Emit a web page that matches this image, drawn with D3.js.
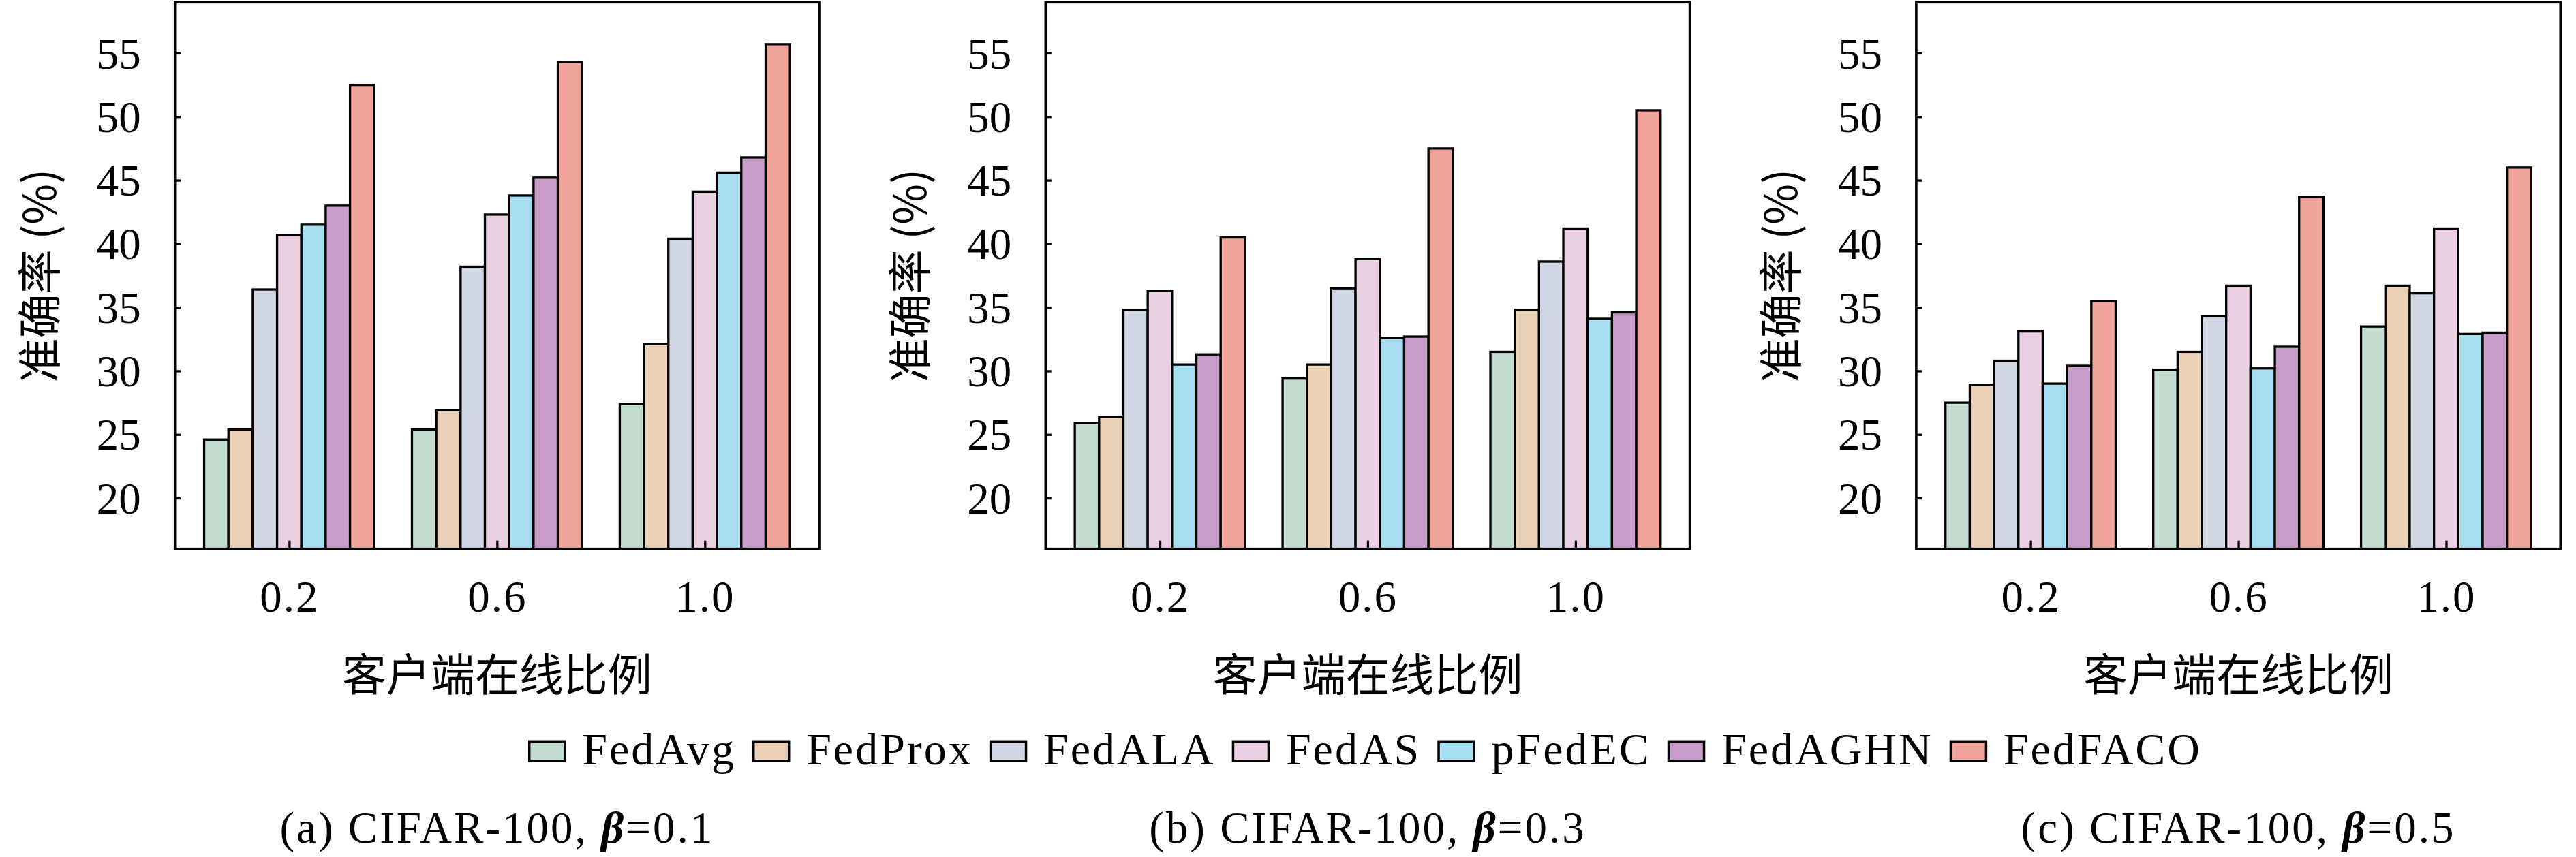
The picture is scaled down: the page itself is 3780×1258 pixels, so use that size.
<!DOCTYPE html>
<html>
<head>
<meta charset="utf-8">
<script src="https://cdn.jsdelivr.net/npm/d3@7"></script>
<style>
  html, body { margin: 0; padding: 0; background: #fff; }
  svg { display: block; }
</style>
</head>
<body>
<svg id="chart" width="3780" height="1258"></svg>
<script>
// categories and series
var categories = ['0.2', '0.6', '1.0'];
var methods = ['FedAvg', 'FedProx', 'FedALA', 'FedAS', 'pFedEC', 'FedAGHN', 'FedFACO'];
var colors = ['#c3dcd0', '#ecd1b9', '#d0d6e4', '#ebd0e4', '#a7def2', '#c89cc9', '#f0a49c'];

// accuracy (%) per group, one row per online ratio, methods in order above
var acc_beta01 = [
    [24.6, 25.4, 36.4, 40.7, 41.5, 43.0, 52.5],
    [25.4, 26.9, 38.2, 42.3, 43.8, 45.2, 54.3],
    [27.4, 32.1, 40.4, 44.1, 45.6, 46.8, 55.7]
];
var acc_beta03 = [
    [25.9, 26.4, 34.8, 36.3, 30.5, 31.3, 40.5],
    [29.4, 30.5, 36.5, 38.8, 32.6, 32.7, 47.5],
    [31.5, 34.8, 38.6, 41.2, 34.1, 34.6, 50.5]
];
var acc_beta05 = [
    [27.5, 28.9, 30.8, 33.1, 29.0, 30.4, 35.5],
    [30.1, 31.5, 34.3, 36.7, 30.2, 31.9, 43.7],
    [33.5, 36.7, 36.1, 41.2, 32.9, 33.0, 46.0]
];
var y_ticks = [20, 25, 30, 35, 40, 45, 50, 55];
var y_domain = [16, 59];
var captions = ['(a) CIFAR-100, ', '(b) CIFAR-100, ', '(c) CIFAR-100, '];
var betas = ['0.1', '0.3', '0.5'];
var x_label = '客户端在线比例';
var y_label = '准确率 (%)';

var panels_data = [acc_beta01, acc_beta03, acc_beta05];

// layout
var LATIN = '"Liberation Serif", "DejaVu Serif", serif';
var CJK = '"Noto Sans CJK SC", "Noto Sans CJK JP", sans-serif';
var FS = 65;
var top_y = 3.3, bottom_y = 805.7;
var panel_w = 945.3, panel_step = 1277.6, first_left = 256.7;
var bar_w = 0.117;

var svg = d3.select('#chart');

panels_data.forEach(function(rows, p) {
    var left = first_left + p * panel_step;
    var right = left + panel_w;
    var cx = (left + right) / 2;

    var x = d3.scaleLinear().domain([-0.55, 2.55]).range([left, right]);
    var y = d3.scaleLinear().domain(y_domain).range([bottom_y, top_y]);

    var g = svg.append('g').attr('class', 'panel');

    // bars
    rows.forEach(function(vals, i) {
        g.selectAll(null)
            .data(vals)
            .enter()
            .append('rect')
            .attr('x', function(d, j) { return x(i + (j - 3.5) * bar_w); })
            .attr('width', x(bar_w) - x(0))
            .attr('y', function(d) { return y(d); })
            .attr('height', function(d) { return y(y_domain[0]) - y(d); })
            .style('fill', function(d, j) { return colors[j]; })
            .style('stroke', '#000')
            .style('stroke-width', 3.3);
    });

    // y axis, ticks pointing in
    var ya = g.append('g')
        .attr('transform', 'translate(' + left + ',0)')
        .call(d3.axisLeft(y).tickValues(y_ticks).tickSize(-8.5).tickPadding(50));
    ya.select('.domain').remove();
    ya.selectAll('line').style('stroke', '#000').style('stroke-width', 3.3);
    ya.selectAll('text')
        .attr('dy', '0.34em')
        .style('font-family', LATIN)
        .style('font-size', FS + 'px')
        .style('fill', '#000');

    // x axis
    var xa = g.append('g')
        .attr('transform', 'translate(0,' + bottom_y + ')')
        .call(d3.axisBottom(x).tickValues([0, 1, 2])
            .tickFormat(function(d) { return categories[d]; })
            .tickSize(-12));
    xa.select('.domain').remove();
    xa.selectAll('line').style('stroke', '#000').style('stroke-width', 3.3);
    xa.selectAll('text')
        .attr('y', 92.3)
        .attr('dy', null)
        .style('font-family', LATIN)
        .style('font-size', FS + 'px')
        .style('letter-spacing', '2px')
        .style('fill', '#000');

    // frame
    g.append('rect')
        .attr('x', left).attr('y', top_y)
        .attr('width', panel_w).attr('height', bottom_y - top_y)
        .style('fill', 'none')
        .style('stroke', '#000')
        .style('stroke-width', 3.6);

    // axis labels
    g.append('text')
        .attr('x', cx).attr('y', 986)
        .attr('text-anchor', 'middle')
        .attr('dominant-baseline', 'central')
        .style('font-family', CJK)
        .style('font-size', FS + 'px')
        .text(x_label);

    g.append('text')
        .attr('transform', 'translate(' + (left - 203) + ',' + ((top_y + bottom_y) / 2) + ') rotate(-90)')
        .attr('text-anchor', 'middle')
        .attr('dominant-baseline', 'central')
        .style('font-family', CJK)
        .style('font-size', FS + 'px')
        .text(y_label);

    // sub caption
    var cap = g.append('text')
        .attr('x', cx).attr('y', 1236.7)
        .attr('text-anchor', 'middle')
        .style('font-family', LATIN)
        .style('font-size', FS + 'px')
        .style('letter-spacing', '3px');
    cap.append('tspan').text(captions[p]);
    cap.append('tspan').style('font-weight', 'bold').style('font-style', 'italic').text('β');
    cap.append('tspan').text('=' + betas[p]);
});

// shared legend, centred under the middle panel
var legend = svg.append('g').attr('class', 'legend');
var patch_w = 52, patch_h = 28.5, gap_text = 23.7, gap_item = 24;
var items = legend.selectAll('g.item')
    .data(methods)
    .enter()
    .append('g')
    .attr('class', 'item');

items.append('rect')
    .attr('width', patch_w).attr('height', patch_h)
    .attr('y', 1088.3)
    .style('fill', function(d, i) { return colors[i]; })
    .style('stroke', '#000')
    .style('stroke-width', 3.5);

items.append('text')
    .attr('y', 1121.7)
    .style('font-family', LATIN)
    .style('font-size', '66px')
    .style('letter-spacing', '3px')
    .text(function(d) { return d; });

var cursor = 0;
var offsets = [];
items.each(function() {
    var t = d3.select(this).select('text');
    offsets.push(cursor);
    cursor += patch_w + 3.5 + gap_text + t.node().getComputedTextLength() + gap_item;
});
var total = cursor - gap_item;
var start = 2003 - total / 2;
items.each(function(d, i) {
    var it = d3.select(this);
    it.select('rect').attr('x', start + offsets[i] + 1.75);
    it.select('text').attr('x', start + offsets[i] + patch_w + 3.5 + gap_text);
});
</script>
</body>
</html>
